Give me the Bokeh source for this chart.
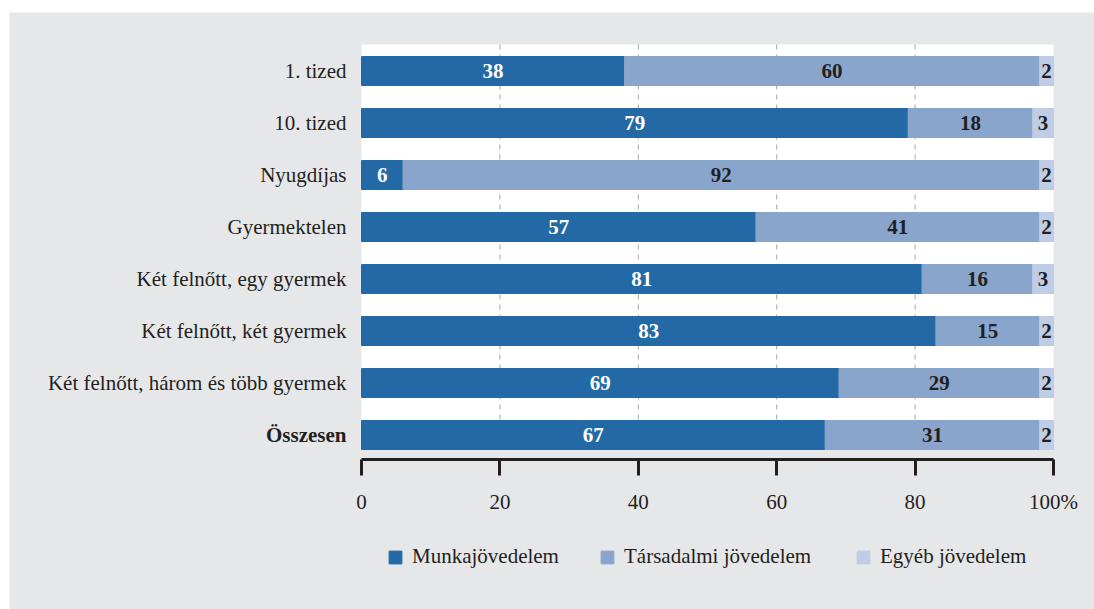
from bokeh.plotting import figure
from bokeh.models import (ColumnDataSource, LabelSet, Legend, LegendItem, BoxAnnotation,
                          FixedTicker, Range1d, LinearAxis)
from bokeh.core.properties import value
from bokeh.embed import file_html
from bokeh.resources import INLINE

categories = ["1. tized", "10. tized", "Nyugdíjas", "Gyermektelen",
              "Két felnőtt, egy gyermek", "Két felnőtt, két gyermek",
              "Két felnőtt, három és több gyermek", "Összesen"]
munka = [38, 79, 6, 57, 81, 83, 69, 67]
tarsadalmi = [60, 18, 92, 41, 16, 15, 29, 31]
egyeb = [2, 3, 2, 2, 3, 2, 2, 2]
series_names = ["Munkajövedelem", "Társadalmi jövedelem", "Egyéb jövedelem"]
x_ticks = [0, 20, 40, 60, 80, 100]

FONT = "Liberation Serif"
FS = "21px"
DARK = "#2369a5"
MID = "#8aa5cc"
LIGHT = "#c0cde6"
GRAY = "#e6e7e9"
TXT = "#231f20"

# ---- layout constants (pixels) ----
W, H = 1094, 609
PX = 6.92            # px per percent
PY = 52.0            # px per row
X0_PX = 361          # px from figure left to value 0
Y0_PX = 434.5        # px from figure top to centre of last row
PANEL_LEFT, PANEL_TOP = 9, 12
bar_h = 0.558

n = len(categories)
ypos = [n - 1 - i for i in range(n)]
left1 = [0] * n
right1 = munka
right2 = [a + b for a, b in zip(munka, tarsadalmi)]
right3 = [a + b + c for a, b, c in zip(munka, tarsadalmi, egyeb)]

src = ColumnDataSource(dict(
    y=ypos, cat=categories,
    l1=left1, r1=right1, r2=right2, r3=right3,
    m1=[(a + b) / 2 for a, b in zip(left1, right1)],
    m2=[(a + b) / 2 for a, b in zip(right1, right2)],
    m3=[(a + b) / 2 for a, b in zip(right2, right3)],
    t1=[str(v) for v in munka], t2=[str(v) for v in tarsadalmi], t3=[str(v) for v in egyeb],
    style=["bold" if c == "Összesen" else "normal" for c in categories],
))

xl = -X0_PX / PX
xr = xl + W / PX
yt = Y0_PX / PY
yb = yt - H / PY
white_top = (n - 1) + 26.5 / PY
white_bottom = -bar_h / 2
axis_y = white_bottom - 10 / PY

p = figure(width=W, height=H, output_backend="svg", toolbar_location=None,
           x_range=Range1d(xl, xr), y_range=Range1d(yb, yt),
           x_axis_location=None, y_axis_location=None, min_border=0,
           background_fill_color="white", border_fill_color="white", outline_line_color=None)
p.grid.visible = False

panel = BoxAnnotation(left=xl + PANEL_LEFT / PX, top=yt - PANEL_TOP / PY,
                      fill_color=GRAY, fill_alpha=1.0, line_color=None, level="image")
p.add_layout(panel)
white = BoxAnnotation(left=x_ticks[0], right=x_ticks[-1], bottom=white_bottom, top=white_top,
                      fill_color="white", fill_alpha=1.0, line_color=None, level="underlay")
p.add_layout(white)

grid_src = ColumnDataSource(dict(x=x_ticks[1:-1]))
p.segment(x0="x", x1="x", y0=white_bottom, y1=white_top, source=grid_src,
          line_color="#a6a6a6", line_width=1, line_dash="5 5")

r1 = p.hbar(y="y", left="l1", right="r1", height=bar_h, color=DARK, source=src)
r2 = p.hbar(y="y", left="r1", right="r2", height=bar_h, color=MID, source=src)
r3 = p.hbar(y="y", left="r2", right="r3", height=bar_h, color=LIGHT, source=src)

for xf, tf, col in [("m1", "t1", "white"), ("m2", "t2", TXT), ("m3", "t3", TXT)]:
    p.add_layout(LabelSet(x=xf, y="y", text=tf, source=src, text_align="center",
                          text_baseline="middle", text_font=value(FONT), text_font_size=FS,
                          text_font_style="bold", text_color=col))

# category labels
p.add_layout(LabelSet(x=0, y="y", text="cat", source=src, text_align="right",
                      text_baseline="middle", x_offset=-15,
                      text_font=value(FONT), text_font_size=FS,
                      text_font_style="style", text_color=TXT))

ax = LinearAxis(fixed_location=axis_y, bounds=(x_ticks[0], x_ticks[-1]),
                ticker=FixedTicker(ticks=x_ticks))
ax.major_label_overrides = {100: "100%"}
ax.axis_line_color = TXT
ax.axis_line_width = 3
ax.major_tick_line_color = TXT
ax.major_tick_line_width = 3
ax.major_tick_in = 0
ax.major_tick_out = 16
ax.minor_tick_line_color = None
ax.major_label_standoff = 14
ax.major_label_text_font = FONT
ax.major_label_text_font_size = FS
ax.major_label_text_color = TXT
p.add_layout(ax, "below")

legend_x = [387, 599, 855]
for name, rend, lx in zip(series_names, [r1, r2, r3], legend_x):
    lg = Legend(items=[LegendItem(label=name, renderers=[rend])],
                orientation="horizontal", background_fill_alpha=0, border_line_color=None,
                label_text_font=FONT, label_text_font_size=FS, label_text_color=TXT,
                glyph_width=16, glyph_height=16, label_standoff=9, label_height=16,
                location=(lx, 40), margin=0, padding=0)
    p.add_layout(lg)

open("out.html", "w").write(file_html(p, INLINE))
